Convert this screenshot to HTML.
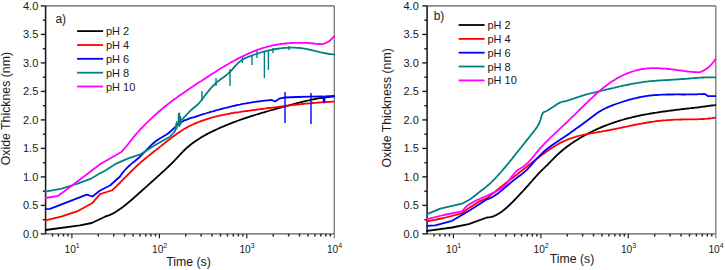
<!DOCTYPE html><html><head><meta charset="utf-8"><style>html,body{margin:0;padding:0;background:#fff;}svg{display:block;}text{font-family:"Liberation Sans",sans-serif;fill:#1a1a1a;}</style></head><body>
<svg width="725" height="270" viewBox="0 0 725 270">
<line x1="45.6" y1="5.9" x2="334.3" y2="5.9" stroke="#8a8a8a" stroke-width="1.8"/>
<line x1="334.3" y1="5.9" x2="334.3" y2="233.9" stroke="#777" stroke-width="1.3"/>
<line x1="45.6" y1="233.9" x2="334.3" y2="233.9" stroke="#8a8a8a" stroke-width="1.8"/>
<line x1="45.6" y1="5.9" x2="45.6" y2="233.9" stroke="#1e1e1e" stroke-width="1.6"/>
<line x1="40.8" y1="233.9" x2="45.6" y2="233.9" stroke="#1e1e1e" stroke-width="1.4"/>
<text x="38.3" y="237.6" font-size="11" text-anchor="end">0.0</text>
<line x1="42.8" y1="219.7" x2="45.6" y2="219.7" stroke="#1e1e1e" stroke-width="1.4"/>
<line x1="40.8" y1="205.4" x2="45.6" y2="205.4" stroke="#1e1e1e" stroke-width="1.4"/>
<text x="38.3" y="209.1" font-size="11" text-anchor="end">0.5</text>
<line x1="42.8" y1="191.2" x2="45.6" y2="191.2" stroke="#1e1e1e" stroke-width="1.4"/>
<line x1="40.8" y1="176.9" x2="45.6" y2="176.9" stroke="#1e1e1e" stroke-width="1.4"/>
<text x="38.3" y="180.6" font-size="11" text-anchor="end">1.0</text>
<line x1="42.8" y1="162.7" x2="45.6" y2="162.7" stroke="#1e1e1e" stroke-width="1.4"/>
<line x1="40.8" y1="148.4" x2="45.6" y2="148.4" stroke="#1e1e1e" stroke-width="1.4"/>
<text x="38.3" y="152.1" font-size="11" text-anchor="end">1.5</text>
<line x1="42.8" y1="134.2" x2="45.6" y2="134.2" stroke="#1e1e1e" stroke-width="1.4"/>
<line x1="40.8" y1="119.9" x2="45.6" y2="119.9" stroke="#1e1e1e" stroke-width="1.4"/>
<text x="38.3" y="123.6" font-size="11" text-anchor="end">2.0</text>
<line x1="42.8" y1="105.7" x2="45.6" y2="105.7" stroke="#1e1e1e" stroke-width="1.4"/>
<line x1="40.8" y1="91.4" x2="45.6" y2="91.4" stroke="#1e1e1e" stroke-width="1.4"/>
<text x="38.3" y="95.1" font-size="11" text-anchor="end">2.5</text>
<line x1="42.8" y1="77.2" x2="45.6" y2="77.2" stroke="#1e1e1e" stroke-width="1.4"/>
<line x1="40.8" y1="62.9" x2="45.6" y2="62.9" stroke="#1e1e1e" stroke-width="1.4"/>
<text x="38.3" y="66.6" font-size="11" text-anchor="end">3.0</text>
<line x1="42.8" y1="48.7" x2="45.6" y2="48.7" stroke="#1e1e1e" stroke-width="1.4"/>
<line x1="40.8" y1="34.4" x2="45.6" y2="34.4" stroke="#1e1e1e" stroke-width="1.4"/>
<text x="38.3" y="38.1" font-size="11" text-anchor="end">3.5</text>
<line x1="42.8" y1="20.2" x2="45.6" y2="20.2" stroke="#1e1e1e" stroke-width="1.4"/>
<line x1="40.8" y1="5.9" x2="45.6" y2="5.9" stroke="#1e1e1e" stroke-width="1.4"/>
<text x="38.3" y="9.6" font-size="11" text-anchor="end">4.0</text>
<line x1="52.5" y1="233.9" x2="52.5" y2="236.5" stroke="#1e1e1e" stroke-width="1.4"/>
<line x1="58.4" y1="233.9" x2="58.4" y2="236.5" stroke="#1e1e1e" stroke-width="1.4"/>
<line x1="63.5" y1="233.9" x2="63.5" y2="236.5" stroke="#1e1e1e" stroke-width="1.4"/>
<line x1="67.9" y1="233.9" x2="67.9" y2="236.5" stroke="#1e1e1e" stroke-width="1.4"/>
<line x1="71.9" y1="233.9" x2="71.9" y2="238.3" stroke="#1e1e1e" stroke-width="1.2"/>
<line x1="98.3" y1="233.9" x2="98.3" y2="236.5" stroke="#1e1e1e" stroke-width="1.4"/>
<line x1="113.7" y1="233.9" x2="113.7" y2="236.5" stroke="#1e1e1e" stroke-width="1.4"/>
<line x1="124.6" y1="233.9" x2="124.6" y2="236.5" stroke="#1e1e1e" stroke-width="1.4"/>
<line x1="133.1" y1="233.9" x2="133.1" y2="236.5" stroke="#1e1e1e" stroke-width="1.4"/>
<line x1="140.0" y1="233.9" x2="140.0" y2="236.5" stroke="#1e1e1e" stroke-width="1.4"/>
<line x1="145.8" y1="233.9" x2="145.8" y2="236.5" stroke="#1e1e1e" stroke-width="1.4"/>
<line x1="150.9" y1="233.9" x2="150.9" y2="236.5" stroke="#1e1e1e" stroke-width="1.4"/>
<line x1="155.4" y1="233.9" x2="155.4" y2="236.5" stroke="#1e1e1e" stroke-width="1.4"/>
<line x1="159.4" y1="233.9" x2="159.4" y2="238.3" stroke="#1e1e1e" stroke-width="1.2"/>
<line x1="185.7" y1="233.9" x2="185.7" y2="236.5" stroke="#1e1e1e" stroke-width="1.4"/>
<line x1="201.1" y1="233.9" x2="201.1" y2="236.5" stroke="#1e1e1e" stroke-width="1.4"/>
<line x1="212.0" y1="233.9" x2="212.0" y2="236.5" stroke="#1e1e1e" stroke-width="1.4"/>
<line x1="220.5" y1="233.9" x2="220.5" y2="236.5" stroke="#1e1e1e" stroke-width="1.4"/>
<line x1="227.4" y1="233.9" x2="227.4" y2="236.5" stroke="#1e1e1e" stroke-width="1.4"/>
<line x1="233.3" y1="233.9" x2="233.3" y2="236.5" stroke="#1e1e1e" stroke-width="1.4"/>
<line x1="238.4" y1="233.9" x2="238.4" y2="236.5" stroke="#1e1e1e" stroke-width="1.4"/>
<line x1="242.8" y1="233.9" x2="242.8" y2="236.5" stroke="#1e1e1e" stroke-width="1.4"/>
<line x1="246.8" y1="233.9" x2="246.8" y2="238.3" stroke="#1e1e1e" stroke-width="1.2"/>
<line x1="273.2" y1="233.9" x2="273.2" y2="236.5" stroke="#1e1e1e" stroke-width="1.4"/>
<line x1="288.6" y1="233.9" x2="288.6" y2="236.5" stroke="#1e1e1e" stroke-width="1.4"/>
<line x1="299.5" y1="233.9" x2="299.5" y2="236.5" stroke="#1e1e1e" stroke-width="1.4"/>
<line x1="308.0" y1="233.9" x2="308.0" y2="236.5" stroke="#1e1e1e" stroke-width="1.4"/>
<line x1="314.9" y1="233.9" x2="314.9" y2="236.5" stroke="#1e1e1e" stroke-width="1.4"/>
<line x1="320.8" y1="233.9" x2="320.8" y2="236.5" stroke="#1e1e1e" stroke-width="1.4"/>
<line x1="325.8" y1="233.9" x2="325.8" y2="236.5" stroke="#1e1e1e" stroke-width="1.4"/>
<line x1="330.3" y1="233.9" x2="330.3" y2="236.5" stroke="#1e1e1e" stroke-width="1.4"/>
<line x1="334.3" y1="233.9" x2="334.3" y2="238.3" stroke="#777" stroke-width="1.2"/>
<text x="72.1" y="252.8" font-size="10.2" text-anchor="middle">10<tspan font-size="7" dy="-4.6">1</tspan></text>
<text x="159.6" y="252.8" font-size="10.2" text-anchor="middle">10<tspan font-size="7" dy="-4.6">2</tspan></text>
<text x="247.0" y="252.8" font-size="10.2" text-anchor="middle">10<tspan font-size="7" dy="-4.6">3</tspan></text>
<text x="334.5" y="252.8" font-size="10.2" text-anchor="middle">10<tspan font-size="7" dy="-4.6">4</tspan></text>
<path d="M45.6,230.0 L80.0,225.3 L91.7,223.0 L105.0,216.7 L105.0,216.7 L106.5,216.2 L108.0,215.7 L109.5,215.1 L111.0,214.4 L112.5,213.7 L114.0,212.9 L115.5,212.0 L117.0,211.1 L118.5,210.1 L120.0,209.1 L121.5,208.0 L123.0,206.9 L124.5,205.7 L126.0,204.5 L127.5,203.3 L129.0,202.0 L130.5,200.8 L132.0,199.5 L133.5,198.2 L135.0,196.8 L136.5,195.5 L138.0,194.1 L139.5,192.8 L141.0,191.5 L142.5,190.1 L144.0,188.8 L145.5,187.4 L147.0,186.1 L148.5,184.7 L150.0,183.4 L151.5,182.0 L153.0,180.7 L154.5,179.3 L156.0,178.0 L157.5,176.6 L159.0,175.3 L160.5,173.9 L162.0,172.5 L163.5,171.2 L165.0,169.8 L166.5,168.4 L168.0,167.0 L169.5,165.5 L171.0,164.1 L172.5,162.6 L174.0,161.1 L175.5,159.5 L177.0,157.9 L178.5,156.3 L180.0,154.7 L181.5,153.1 L183.0,151.5 L184.5,150.0 L186.0,148.6 L187.5,147.3 L189.0,146.0 L190.5,144.8 L192.0,143.6 L193.5,142.5 L195.0,141.4 L196.5,140.4 L198.0,139.4 L199.5,138.4 L201.0,137.5 L202.5,136.6 L204.0,135.8 L205.5,134.9 L207.0,134.1 L208.5,133.3 L210.0,132.6 L211.5,131.8 L213.0,131.1 L214.5,130.4 L216.0,129.7 L217.5,129.0 L219.0,128.3 L220.5,127.6 L222.0,127.0 L223.5,126.4 L225.0,125.7 L226.5,125.1 L228.0,124.5 L229.5,123.9 L231.0,123.3 L232.5,122.7 L234.0,122.1 L235.5,121.6 L237.0,121.0 L238.5,120.5 L240.0,119.9 L241.5,119.4 L243.0,118.9 L244.5,118.4 L246.0,117.9 L247.5,117.4 L249.0,116.9 L250.5,116.4 L252.0,115.9 L253.5,115.4 L255.0,115.0 L256.5,114.5 L258.0,114.1 L259.5,113.6 L261.0,113.2 L262.5,112.7 L264.0,112.3 L265.5,111.8 L267.0,111.4 L268.5,111.0 L270.0,110.5 L271.5,110.1 L273.0,109.7 L274.5,109.3 L276.0,108.9 L277.5,108.5 L279.0,108.0 L280.5,107.6 L282.0,107.2 L283.5,106.8 L285.0,106.4 L286.5,106.0 L288.0,105.6 L289.5,105.2 L291.0,104.8 L292.5,104.4 L294.0,104.0 L295.5,103.6 L297.0,103.2 L298.5,102.8 L300.0,102.4 L301.5,102.0 L303.0,101.7 L304.5,101.3 L306.0,100.9 L307.5,100.6 L309.0,100.3 L310.5,99.9 L312.0,99.6 L313.5,99.3 L315.0,99.0 L316.5,98.7 L318.0,98.5 L319.5,98.2 L321.0,98.0 L322.5,97.7 L324.0,97.5 L325.5,97.3 L327.0,97.1 L328.5,97.0 L330.0,96.8 L331.5,96.7 L333.0,96.6 L334.0,96.5" fill="none" stroke="#000000" stroke-width="1.8" stroke-linejoin="round" stroke-linecap="round"/>
<path d="M45.6,220.3 L62.0,216.3 L78.3,210.8 L92.0,203.3 L100.0,194.2 L105.0,192.5 L111.7,190.5 L111.7,190.5 L113.2,189.2 L114.7,187.8 L116.2,186.4 L117.7,184.9 L119.2,183.5 L120.7,182.0 L122.2,180.4 L123.7,178.9 L125.2,177.4 L126.7,175.8 L128.2,174.3 L129.7,172.8 L131.2,171.3 L132.7,169.8 L134.2,168.3 L135.7,166.9 L137.2,165.5 L138.7,164.2 L140.2,162.9 L141.7,161.5 L143.2,160.3 L144.7,159.0 L146.2,157.8 L147.7,156.6 L149.2,155.4 L150.7,154.2 L152.2,153.0 L153.7,151.8 L155.2,150.6 L156.7,149.4 L158.2,148.3 L159.7,147.1 L161.2,145.9 L162.7,144.7 L164.2,143.5 L165.7,142.3 L167.2,141.1 L168.7,139.9 L170.2,138.8 L171.7,137.6 L173.2,136.5 L174.7,135.4 L176.2,134.3 L177.7,133.2 L179.2,132.2 L180.7,131.2 L182.2,130.2 L183.7,129.3 L185.2,128.4 L186.7,127.6 L188.2,126.8 L189.7,126.0 L191.2,125.2 L192.7,124.5 L194.2,123.8 L195.7,123.2 L197.2,122.6 L198.7,122.0 L200.2,121.4 L201.7,120.8 L203.2,120.3 L204.7,119.8 L206.2,119.3 L207.7,118.8 L209.2,118.4 L210.7,117.9 L212.2,117.5 L213.7,117.1 L215.2,116.7 L216.7,116.3 L218.2,116.0 L219.7,115.6 L221.2,115.3 L222.7,115.0 L224.2,114.6 L225.7,114.3 L227.2,114.1 L228.7,113.8 L230.2,113.5 L231.7,113.2 L233.2,113.0 L234.7,112.7 L236.2,112.5 L237.7,112.3 L239.2,112.1 L240.7,111.8 L242.2,111.6 L243.7,111.4 L245.2,111.2 L246.7,111.0 L248.2,110.8 L249.7,110.6 L251.2,110.4 L252.7,110.2 L254.2,110.0 L255.7,109.8 L257.2,109.6 L258.7,109.4 L260.2,109.2 L261.7,109.0 L263.2,108.8 L264.7,108.6 L266.2,108.4 L267.7,108.2 L269.2,108.0 L270.7,107.8 L272.2,107.6 L273.7,107.5 L275.2,107.3 L276.7,107.1 L278.2,106.9 L279.7,106.7 L281.2,106.5 L282.7,106.3 L284.2,106.1 L285.7,105.9 L287.2,105.7 L288.7,105.6 L290.2,105.4 L291.7,105.2 L293.2,105.0 L294.7,104.9 L296.2,104.7 L297.7,104.5 L299.2,104.4 L300.7,104.2 L302.2,104.0 L303.7,103.9 L305.2,103.7 L306.7,103.6 L308.2,103.4 L309.7,103.3 L311.2,103.2 L312.7,103.0 L314.2,102.9 L315.7,102.8 L317.2,102.6 L318.7,102.5 L320.2,102.4 L321.7,102.3 L323.2,102.2 L324.7,102.1 L326.2,102.0 L327.7,101.9 L329.2,101.8 L330.7,101.8 L332.2,101.7 L333.7,101.6 L334.0,101.6" fill="none" stroke="#ff0000" stroke-width="1.8" stroke-linejoin="round" stroke-linecap="round"/>
<path d="M45.6,209.2 L50.0,208.8 L86.7,194.7 L92.5,196.5 L100.0,190.5 L110.0,185.5 L120.0,176.5 L120.0,176.5 L121.5,174.3 L123.0,172.3 L124.5,170.5 L126.0,168.9 L127.5,167.4 L129.0,166.0 L130.5,164.6 L132.0,163.4 L133.5,162.2 L135.0,161.0 L136.5,159.7 L138.0,158.5 L139.5,157.2 L141.0,155.7 L142.5,154.2 L144.0,152.7 L145.5,151.1 L147.0,149.5 L148.5,147.9 L150.0,146.4 L151.5,144.9 L153.0,143.5 L154.5,142.2 L156.0,141.0 L157.5,139.9 L159.0,138.9 L160.5,138.0 L162.0,137.2 L163.5,136.3 L165.0,135.4 L166.5,134.4 L168.0,133.4 L169.5,132.3 L171.0,131.0 L172.5,129.6 L174.0,128.2 L175.5,126.8 L177.0,125.4 L178.5,124.1 L180.0,123.0 L181.5,122.0 L183.0,121.2 L184.5,120.4 L186.0,119.8 L187.5,119.3 L189.0,118.7 L190.5,118.2 L192.0,117.7 L193.5,117.3 L195.0,116.8 L196.5,116.3 L198.0,115.8 L199.5,115.3 L201.0,114.9 L202.5,114.4 L204.0,113.9 L205.5,113.5 L207.0,113.0 L208.5,112.6 L210.0,112.1 L211.5,111.7 L213.0,111.3 L214.5,110.8 L216.0,110.4 L217.5,110.0 L219.0,109.6 L220.5,109.2 L222.0,108.8 L223.5,108.4 L225.0,108.0 L226.5,107.6 L228.0,107.3 L229.5,106.9 L231.0,106.5 L232.5,106.2 L234.0,105.8 L235.5,105.5 L237.0,105.2 L238.5,104.9 L240.0,104.6 L241.5,104.2 L243.0,103.9 L244.5,103.7 L246.0,103.4 L247.5,103.1 L249.0,102.8 L250.5,102.6 L252.0,102.3 L253.5,102.1 L255.0,101.9 L256.5,101.7 L258.0,101.5 L259.5,101.3 L261.0,101.1 L262.5,100.9 L264.0,100.7 L265.5,100.6 L267.0,100.4 L268.5,100.3 L270.0,100.1 L271.5,100.0 L271.7,100.0 L275.0,101.5 L280.0,98.3 L285.0,97.5 L296.7,97.0 L310.0,96.7 L323.0,96.4 L324.0,102.5 L325.0,96.3 L334.0,96.0" fill="none" stroke="#0000ff" stroke-width="1.8" stroke-linejoin="round" stroke-linecap="round"/>
<line x1="285.0" y1="92.0" x2="285.0" y2="123.0" stroke="#0000ff" stroke-width="1.4"/>
<line x1="311.0" y1="93.0" x2="311.0" y2="124.0" stroke="#0000ff" stroke-width="1.4"/>
<path d="M45.6,191.7 L61.7,188.7 L78.3,183.3 L91.7,178.3 L100.0,173.3 L105.0,170.8 L116.7,163.3 L128.3,158.3 L140.4,154.4 L150.7,147.8 L160.0,142.2 L170.0,136.7 L174.0,132.5 L175.5,129.5 L176.3,123.6 L178.0,124.0 L181.3,120.2 L181.3,120.2 L182.8,118.8 L184.3,117.2 L185.8,115.6 L187.3,114.0 L188.8,112.4 L190.3,110.9 L191.8,109.5 L193.3,108.2 L194.8,107.0 L196.3,105.8 L197.8,104.5 L199.3,102.8 L200.8,101.0 L202.3,99.0 L203.8,97.0 L205.3,95.0 L206.8,93.1 L208.3,91.2 L209.8,89.4 L211.3,87.7 L212.8,86.1 L214.3,84.6 L215.8,83.2 L217.3,81.9 L218.8,80.7 L220.3,79.6 L221.8,78.5 L223.3,77.4 L224.8,76.3 L226.3,75.1 L227.8,73.9 L229.3,72.5 L230.8,71.0 L232.3,69.3 L233.8,67.6 L235.3,65.9 L236.8,64.3 L238.3,62.8 L239.8,61.6 L241.3,60.4 L242.8,59.5 L244.3,58.6 L245.8,57.9 L247.3,57.3 L248.8,56.6 L250.3,56.1 L251.8,55.5 L253.3,55.0 L254.8,54.5 L256.3,54.0 L257.8,53.5 L259.3,53.0 L260.8,52.5 L262.3,52.1 L263.8,51.7 L265.3,51.3 L266.8,50.9 L268.3,50.5 L269.8,50.2 L271.3,49.8 L272.8,49.5 L274.3,49.3 L275.8,49.0 L277.3,48.8 L278.8,48.5 L280.3,48.3 L281.8,48.2 L283.3,48.0 L284.8,47.9 L286.3,47.8 L287.8,47.7 L289.3,47.7 L290.8,47.6 L292.3,47.6 L293.8,47.7 L295.3,47.7 L296.8,47.8 L298.3,47.9 L299.8,48.0 L301.3,48.2 L302.8,48.4 L304.3,48.6 L305.8,48.9 L307.3,49.2 L308.8,49.5 L310.3,49.8 L311.8,50.1 L313.3,50.5 L314.8,50.9 L316.3,51.2 L317.8,51.6 L319.3,51.9 L320.8,52.3 L322.3,52.6 L323.8,53.0 L325.3,53.3 L326.8,53.5 L328.3,53.8 L329.8,54.0 L331.3,54.2 L332.8,54.3 L334.3,54.4 L334.4,54.4" fill="none" stroke="#008080" stroke-width="1.8" stroke-linejoin="round" stroke-linecap="round"/>
<line x1="176.9" y1="121.0" x2="176.9" y2="129.5" stroke="#008080" stroke-width="1.4"/>
<line x1="178.5" y1="113.0" x2="178.5" y2="126.0" stroke="#008080" stroke-width="1.4"/>
<line x1="179.5" y1="112.5" x2="179.5" y2="127.0" stroke="#008080" stroke-width="1.4"/>
<line x1="180.6" y1="116.0" x2="180.6" y2="125.0" stroke="#008080" stroke-width="1.4"/>
<line x1="202.0" y1="91.0" x2="202.0" y2="101.0" stroke="#008080" stroke-width="1.4"/>
<line x1="216.0" y1="78.0" x2="216.0" y2="86.0" stroke="#008080" stroke-width="1.4"/>
<line x1="230.0" y1="69.0" x2="230.0" y2="86.0" stroke="#008080" stroke-width="1.4"/>
<line x1="242.4" y1="56.0" x2="242.4" y2="63.0" stroke="#008080" stroke-width="1.4"/>
<line x1="252.0" y1="56.0" x2="252.0" y2="65.0" stroke="#008080" stroke-width="1.4"/>
<line x1="257.0" y1="50.0" x2="257.0" y2="58.0" stroke="#008080" stroke-width="1.4"/>
<line x1="264.4" y1="52.0" x2="264.4" y2="78.0" stroke="#008080" stroke-width="1.4"/>
<line x1="268.4" y1="51.0" x2="268.4" y2="70.0" stroke="#008080" stroke-width="1.4"/>
<line x1="273.0" y1="48.0" x2="273.0" y2="53.0" stroke="#008080" stroke-width="1.4"/>
<line x1="289.0" y1="46.0" x2="289.0" y2="50.0" stroke="#008080" stroke-width="1.4"/>
<path d="M45.6,198.0 L58.3,195.8 L71.7,185.8 L88.3,173.3 L96.7,166.7 L100.0,164.2 L121.7,151.7 L127.5,145.0 L127.5,145.0 L129.0,143.0 L130.5,141.0 L132.0,139.1 L133.5,137.2 L135.0,135.4 L136.5,133.7 L138.0,132.0 L139.5,130.3 L141.0,128.7 L142.5,127.1 L144.0,125.6 L145.5,124.1 L147.0,122.6 L148.5,121.1 L150.0,119.7 L151.5,118.3 L153.0,116.9 L154.5,115.5 L156.0,114.1 L157.5,112.8 L159.0,111.5 L160.5,110.2 L162.0,109.0 L163.5,107.7 L165.0,106.5 L166.5,105.3 L168.0,104.1 L169.5,103.0 L171.0,101.8 L172.5,100.7 L174.0,99.6 L175.5,98.5 L177.0,97.4 L178.5,96.3 L180.0,95.3 L181.5,94.2 L183.0,93.2 L184.5,92.2 L186.0,91.2 L187.5,90.1 L189.0,89.1 L190.5,88.1 L192.0,87.1 L193.5,86.1 L195.0,85.1 L196.5,84.1 L198.0,83.1 L199.5,82.1 L201.0,81.2 L202.5,80.2 L204.0,79.2 L205.5,78.2 L207.0,77.2 L208.5,76.2 L210.0,75.3 L211.5,74.3 L213.0,73.3 L214.5,72.4 L216.0,71.4 L217.5,70.5 L219.0,69.6 L220.5,68.6 L222.0,67.7 L223.5,66.8 L225.0,65.9 L226.5,65.0 L228.0,64.2 L229.5,63.3 L231.0,62.4 L232.5,61.6 L234.0,60.8 L235.5,59.9 L237.0,59.1 L238.5,58.4 L240.0,57.6 L241.5,56.8 L243.0,56.1 L244.5,55.4 L246.0,54.7 L247.5,54.0 L249.0,53.3 L250.5,52.7 L252.0,52.0 L253.5,51.4 L255.0,50.8 L256.5,50.2 L258.0,49.7 L259.5,49.2 L261.0,48.6 L262.5,48.2 L264.0,47.7 L265.5,47.3 L267.0,46.8 L268.5,46.4 L270.0,46.1 L271.5,45.7 L273.0,45.4 L274.5,45.1 L276.0,44.8 L277.5,44.5 L279.0,44.3 L280.5,44.0 L282.0,43.8 L283.5,43.6 L285.0,43.5 L286.5,43.3 L288.0,43.2 L289.5,43.1 L291.0,43.0 L292.5,42.9 L294.0,42.8 L295.5,42.8 L297.0,42.8 L298.5,42.8 L300.0,42.8 L301.5,42.8 L303.0,42.8 L304.5,42.9 L306.0,42.9 L307.5,43.0 L309.0,43.1 L310.5,43.2 L312.0,43.4 L313.5,43.5 L315.0,43.7 L316.5,43.8 L318.0,44.0 L319.4,44.2 L323.0,44.0 L326.5,42.8 L329.4,41.1 L332.6,38.0 L334.0,36.2" fill="none" stroke="#ff00ff" stroke-width="1.8" stroke-linejoin="round" stroke-linecap="round"/>
<line x1="77.1" y1="31.1" x2="103.1" y2="31.1" stroke="#000000" stroke-width="1.8"/>
<text x="105.9" y="35.1" font-size="11">pH 2</text>
<line x1="77.1" y1="45.0" x2="103.1" y2="45.0" stroke="#ff0000" stroke-width="1.8"/>
<text x="105.9" y="49.0" font-size="11">pH 4</text>
<line x1="77.1" y1="58.8" x2="103.1" y2="58.8" stroke="#0000ff" stroke-width="1.8"/>
<text x="105.9" y="62.8" font-size="11">pH 6</text>
<line x1="77.1" y1="72.7" x2="103.1" y2="72.7" stroke="#008080" stroke-width="1.8"/>
<text x="105.9" y="76.7" font-size="11">pH 8</text>
<line x1="77.1" y1="86.5" x2="103.1" y2="86.5" stroke="#ff00ff" stroke-width="1.8"/>
<text x="105.9" y="90.5" font-size="11">pH 10</text>
<text x="55.4" y="23.0" font-size="12">a)</text>
<text transform="translate(10.1,108.6) rotate(-90)" font-size="12.3" text-anchor="middle">Oxide Thicknes (nm)</text>
<text x="188.5" y="265.8" font-size="12.3" text-anchor="middle">Time (s)</text>
<line x1="427.1" y1="5.9" x2="715.8" y2="5.9" stroke="#8a8a8a" stroke-width="1.8"/>
<line x1="715.8" y1="5.9" x2="715.8" y2="233.9" stroke="#777" stroke-width="1.3"/>
<line x1="427.1" y1="233.9" x2="715.8" y2="233.9" stroke="#8a8a8a" stroke-width="1.8"/>
<line x1="427.1" y1="5.9" x2="427.1" y2="233.9" stroke="#1e1e1e" stroke-width="1.6"/>
<line x1="422.3" y1="233.9" x2="427.1" y2="233.9" stroke="#1e1e1e" stroke-width="1.4"/>
<text x="418.8" y="237.6" font-size="11" text-anchor="end">0.0</text>
<line x1="424.3" y1="219.7" x2="427.1" y2="219.7" stroke="#1e1e1e" stroke-width="1.4"/>
<line x1="422.3" y1="205.4" x2="427.1" y2="205.4" stroke="#1e1e1e" stroke-width="1.4"/>
<text x="418.8" y="209.1" font-size="11" text-anchor="end">0.5</text>
<line x1="424.3" y1="191.2" x2="427.1" y2="191.2" stroke="#1e1e1e" stroke-width="1.4"/>
<line x1="422.3" y1="176.9" x2="427.1" y2="176.9" stroke="#1e1e1e" stroke-width="1.4"/>
<text x="418.8" y="180.6" font-size="11" text-anchor="end">1.0</text>
<line x1="424.3" y1="162.7" x2="427.1" y2="162.7" stroke="#1e1e1e" stroke-width="1.4"/>
<line x1="422.3" y1="148.4" x2="427.1" y2="148.4" stroke="#1e1e1e" stroke-width="1.4"/>
<text x="418.8" y="152.1" font-size="11" text-anchor="end">1.5</text>
<line x1="424.3" y1="134.2" x2="427.1" y2="134.2" stroke="#1e1e1e" stroke-width="1.4"/>
<line x1="422.3" y1="119.9" x2="427.1" y2="119.9" stroke="#1e1e1e" stroke-width="1.4"/>
<text x="418.8" y="123.6" font-size="11" text-anchor="end">2.0</text>
<line x1="424.3" y1="105.7" x2="427.1" y2="105.7" stroke="#1e1e1e" stroke-width="1.4"/>
<line x1="422.3" y1="91.4" x2="427.1" y2="91.4" stroke="#1e1e1e" stroke-width="1.4"/>
<text x="418.8" y="95.1" font-size="11" text-anchor="end">2.5</text>
<line x1="424.3" y1="77.2" x2="427.1" y2="77.2" stroke="#1e1e1e" stroke-width="1.4"/>
<line x1="422.3" y1="62.9" x2="427.1" y2="62.9" stroke="#1e1e1e" stroke-width="1.4"/>
<text x="418.8" y="66.6" font-size="11" text-anchor="end">3.0</text>
<line x1="424.3" y1="48.7" x2="427.1" y2="48.7" stroke="#1e1e1e" stroke-width="1.4"/>
<line x1="422.3" y1="34.4" x2="427.1" y2="34.4" stroke="#1e1e1e" stroke-width="1.4"/>
<text x="418.8" y="38.1" font-size="11" text-anchor="end">3.5</text>
<line x1="424.3" y1="20.2" x2="427.1" y2="20.2" stroke="#1e1e1e" stroke-width="1.4"/>
<line x1="422.3" y1="5.9" x2="427.1" y2="5.9" stroke="#1e1e1e" stroke-width="1.4"/>
<text x="418.8" y="9.6" font-size="11" text-anchor="end">4.0</text>
<line x1="434.0" y1="233.9" x2="434.0" y2="236.5" stroke="#1e1e1e" stroke-width="1.4"/>
<line x1="439.9" y1="233.9" x2="439.9" y2="236.5" stroke="#1e1e1e" stroke-width="1.4"/>
<line x1="445.0" y1="233.9" x2="445.0" y2="236.5" stroke="#1e1e1e" stroke-width="1.4"/>
<line x1="449.4" y1="233.9" x2="449.4" y2="236.5" stroke="#1e1e1e" stroke-width="1.4"/>
<line x1="453.4" y1="233.9" x2="453.4" y2="238.3" stroke="#1e1e1e" stroke-width="1.2"/>
<line x1="479.8" y1="233.9" x2="479.8" y2="236.5" stroke="#1e1e1e" stroke-width="1.4"/>
<line x1="495.2" y1="233.9" x2="495.2" y2="236.5" stroke="#1e1e1e" stroke-width="1.4"/>
<line x1="506.1" y1="233.9" x2="506.1" y2="236.5" stroke="#1e1e1e" stroke-width="1.4"/>
<line x1="514.6" y1="233.9" x2="514.6" y2="236.5" stroke="#1e1e1e" stroke-width="1.4"/>
<line x1="521.5" y1="233.9" x2="521.5" y2="236.5" stroke="#1e1e1e" stroke-width="1.4"/>
<line x1="527.3" y1="233.9" x2="527.3" y2="236.5" stroke="#1e1e1e" stroke-width="1.4"/>
<line x1="532.4" y1="233.9" x2="532.4" y2="236.5" stroke="#1e1e1e" stroke-width="1.4"/>
<line x1="536.9" y1="233.9" x2="536.9" y2="236.5" stroke="#1e1e1e" stroke-width="1.4"/>
<line x1="540.9" y1="233.9" x2="540.9" y2="238.3" stroke="#1e1e1e" stroke-width="1.2"/>
<line x1="567.2" y1="233.9" x2="567.2" y2="236.5" stroke="#1e1e1e" stroke-width="1.4"/>
<line x1="582.6" y1="233.9" x2="582.6" y2="236.5" stroke="#1e1e1e" stroke-width="1.4"/>
<line x1="593.5" y1="233.9" x2="593.5" y2="236.5" stroke="#1e1e1e" stroke-width="1.4"/>
<line x1="602.0" y1="233.9" x2="602.0" y2="236.5" stroke="#1e1e1e" stroke-width="1.4"/>
<line x1="608.9" y1="233.9" x2="608.9" y2="236.5" stroke="#1e1e1e" stroke-width="1.4"/>
<line x1="614.8" y1="233.9" x2="614.8" y2="236.5" stroke="#1e1e1e" stroke-width="1.4"/>
<line x1="619.9" y1="233.9" x2="619.9" y2="236.5" stroke="#1e1e1e" stroke-width="1.4"/>
<line x1="624.3" y1="233.9" x2="624.3" y2="236.5" stroke="#1e1e1e" stroke-width="1.4"/>
<line x1="628.3" y1="233.9" x2="628.3" y2="238.3" stroke="#1e1e1e" stroke-width="1.2"/>
<line x1="654.7" y1="233.9" x2="654.7" y2="236.5" stroke="#1e1e1e" stroke-width="1.4"/>
<line x1="670.1" y1="233.9" x2="670.1" y2="236.5" stroke="#1e1e1e" stroke-width="1.4"/>
<line x1="681.0" y1="233.9" x2="681.0" y2="236.5" stroke="#1e1e1e" stroke-width="1.4"/>
<line x1="689.5" y1="233.9" x2="689.5" y2="236.5" stroke="#1e1e1e" stroke-width="1.4"/>
<line x1="696.4" y1="233.9" x2="696.4" y2="236.5" stroke="#1e1e1e" stroke-width="1.4"/>
<line x1="702.3" y1="233.9" x2="702.3" y2="236.5" stroke="#1e1e1e" stroke-width="1.4"/>
<line x1="707.3" y1="233.9" x2="707.3" y2="236.5" stroke="#1e1e1e" stroke-width="1.4"/>
<line x1="711.8" y1="233.9" x2="711.8" y2="236.5" stroke="#1e1e1e" stroke-width="1.4"/>
<line x1="715.8" y1="233.9" x2="715.8" y2="238.3" stroke="#777" stroke-width="1.2"/>
<text x="453.6" y="252.8" font-size="10.2" text-anchor="middle">10<tspan font-size="7" dy="-4.6">1</tspan></text>
<text x="541.1" y="252.8" font-size="10.2" text-anchor="middle">10<tspan font-size="7" dy="-4.6">2</tspan></text>
<text x="628.5" y="252.8" font-size="10.2" text-anchor="middle">10<tspan font-size="7" dy="-4.6">3</tspan></text>
<text x="716.0" y="252.8" font-size="10.2" text-anchor="middle">10<tspan font-size="7" dy="-4.6">4</tspan></text>
<path d="M427.1,230.8 L452.0,227.5 L468.7,224.2 L487.0,217.5 L487.0,217.5 L488.5,217.4 L490.0,217.2 L491.5,216.9 L493.0,216.4 L494.5,215.8 L496.0,215.1 L497.5,214.3 L499.0,213.4 L500.5,212.4 L502.0,211.4 L503.5,210.2 L505.0,209.0 L506.5,207.7 L508.0,206.4 L509.5,205.0 L511.0,203.5 L512.5,202.1 L514.0,200.5 L515.5,199.0 L517.0,197.4 L518.5,195.8 L520.0,194.2 L521.5,192.6 L523.0,191.0 L524.5,189.4 L526.0,187.7 L527.5,186.1 L529.0,184.4 L530.5,182.7 L532.0,181.0 L533.5,179.2 L535.0,177.5 L536.5,175.8 L538.0,174.2 L539.5,172.6 L541.0,171.1 L542.5,169.6 L544.0,168.2 L545.5,166.7 L547.0,165.3 L548.5,163.7 L550.0,162.2 L551.5,160.6 L553.0,159.1 L554.5,157.6 L556.0,156.1 L557.5,154.7 L559.0,153.3 L560.5,152.0 L562.0,150.7 L563.5,149.4 L565.0,148.2 L566.5,147.1 L568.0,146.0 L569.5,144.9 L571.0,143.8 L572.5,142.8 L574.0,141.8 L575.5,140.8 L577.0,139.9 L578.5,139.0 L580.0,138.1 L581.5,137.2 L583.0,136.3 L584.5,135.5 L586.0,134.7 L587.5,133.9 L589.0,133.1 L590.5,132.3 L592.0,131.6 L593.5,130.8 L595.0,130.1 L596.5,129.4 L598.0,128.7 L599.5,128.1 L601.0,127.4 L602.5,126.8 L604.0,126.2 L605.5,125.6 L607.0,125.0 L608.5,124.5 L610.0,123.9 L611.5,123.4 L613.0,122.8 L614.5,122.3 L616.0,121.8 L617.5,121.4 L619.0,120.9 L620.5,120.4 L622.0,120.0 L623.5,119.5 L625.0,119.1 L626.5,118.7 L628.0,118.3 L629.5,117.9 L631.0,117.6 L632.5,117.2 L634.0,116.8 L635.5,116.5 L637.0,116.2 L638.5,115.8 L640.0,115.5 L641.5,115.2 L643.0,114.9 L644.5,114.6 L646.0,114.3 L647.5,114.1 L649.0,113.8 L650.5,113.5 L652.0,113.3 L653.5,113.0 L655.0,112.8 L656.5,112.6 L658.0,112.3 L659.5,112.1 L661.0,111.9 L662.5,111.7 L664.0,111.5 L665.5,111.3 L667.0,111.1 L668.5,110.9 L670.0,110.7 L671.5,110.5 L673.0,110.3 L674.5,110.1 L676.0,109.9 L677.5,109.7 L679.0,109.6 L680.5,109.4 L682.0,109.2 L683.5,109.0 L685.0,108.9 L686.5,108.7 L688.0,108.5 L689.5,108.3 L691.0,108.2 L692.5,108.0 L694.0,107.8 L695.5,107.6 L697.0,107.5 L698.5,107.3 L700.0,107.1 L701.5,106.9 L703.0,106.7 L704.5,106.5 L706.0,106.3 L707.5,106.1 L709.0,105.9 L710.5,105.7 L712.0,105.5 L713.5,105.3 L715.0,105.1 L715.4,105.0" fill="none" stroke="#000000" stroke-width="1.8" stroke-linejoin="round" stroke-linecap="round"/>
<path d="M427.1,221.3 L443.7,218.0 L462.0,213.3 L468.7,208.3 L478.7,201.7 L487.0,198.3 L487.0,198.3 L488.5,197.0 L490.0,195.8 L491.5,194.5 L493.0,193.3 L494.5,192.1 L496.0,190.9 L497.5,189.7 L499.0,188.5 L500.5,187.3 L502.0,186.1 L503.5,184.9 L505.0,183.7 L506.5,182.5 L508.0,181.4 L509.5,180.2 L511.0,179.0 L512.5,177.9 L514.0,176.7 L515.5,175.5 L517.0,174.4 L518.5,173.2 L520.0,172.0 L521.5,170.9 L523.0,169.7 L524.5,168.5 L526.0,167.4 L527.5,166.2 L529.0,165.0 L530.5,163.8 L532.0,162.6 L533.5,161.4 L535.0,160.3 L536.5,159.1 L538.0,157.9 L539.5,156.8 L541.0,155.6 L542.5,154.5 L544.0,153.4 L545.5,152.3 L547.0,151.2 L548.5,150.2 L550.0,149.1 L551.5,148.1 L553.0,147.2 L554.5,146.2 L556.0,145.3 L557.5,144.5 L559.0,143.6 L560.5,142.8 L562.0,142.1 L563.5,141.4 L565.0,140.7 L566.5,140.0 L568.0,139.4 L569.5,138.9 L571.0,138.3 L572.5,137.8 L574.0,137.3 L575.5,136.9 L577.0,136.4 L578.5,136.0 L580.0,135.6 L581.5,135.3 L583.0,134.9 L584.5,134.6 L586.0,134.3 L587.5,134.0 L589.0,133.7 L590.5,133.4 L592.0,133.1 L593.5,132.9 L595.0,132.6 L596.5,132.4 L598.0,132.1 L599.5,131.8 L601.0,131.6 L602.5,131.3 L604.0,131.1 L605.5,130.8 L607.0,130.5 L608.5,130.3 L610.0,130.0 L611.5,129.7 L613.0,129.4 L614.5,129.1 L616.0,128.8 L617.5,128.5 L619.0,128.1 L620.5,127.8 L622.0,127.5 L623.5,127.2 L625.0,126.9 L626.5,126.6 L628.0,126.3 L629.5,125.9 L631.0,125.6 L632.5,125.3 L634.0,125.0 L635.5,124.7 L637.0,124.4 L638.5,124.1 L640.0,123.8 L641.5,123.6 L643.0,123.3 L644.5,123.0 L646.0,122.8 L647.5,122.5 L649.0,122.3 L650.5,122.0 L652.0,121.8 L653.5,121.6 L655.0,121.4 L656.5,121.2 L658.0,121.0 L659.5,120.9 L661.0,120.7 L662.5,120.5 L664.0,120.4 L665.5,120.3 L667.0,120.2 L668.5,120.1 L670.0,120.0 L671.5,119.9 L673.0,119.8 L674.5,119.7 L676.0,119.7 L677.5,119.6 L679.0,119.6 L680.5,119.5 L682.0,119.5 L683.5,119.4 L685.0,119.4 L686.5,119.4 L688.0,119.4 L689.5,119.4 L691.0,119.4 L692.5,119.3 L694.0,119.3 L695.5,119.3 L697.0,119.3 L698.5,119.2 L700.0,119.2 L701.5,119.1 L703.0,119.0 L704.5,118.9 L706.0,118.8 L707.5,118.7 L709.0,118.5 L710.5,118.4 L712.0,118.2 L713.5,117.9 L715.0,117.7 L715.4,117.6" fill="none" stroke="#ff0000" stroke-width="1.8" stroke-linejoin="round" stroke-linecap="round"/>
<path d="M427.1,225.8 L435.3,225.3 L452.0,220.8 L462.0,215.0 L470.3,210.0 L487.0,199.2 L487.0,199.2 L488.5,198.8 L490.0,198.2 L491.5,197.5 L493.0,196.7 L494.5,195.8 L496.0,194.8 L497.5,193.8 L499.0,192.6 L500.5,191.4 L502.0,190.2 L503.5,188.9 L505.0,187.6 L506.5,186.3 L508.0,185.0 L509.5,183.7 L511.0,182.4 L512.5,181.2 L514.0,180.0 L515.5,178.8 L517.0,177.7 L518.5,176.6 L520.0,175.5 L521.5,174.4 L523.0,173.2 L524.5,171.9 L526.0,170.6 L527.5,169.1 L529.0,167.5 L530.5,165.8 L532.0,164.1 L533.5,162.3 L535.0,160.6 L536.5,158.9 L538.0,157.3 L539.5,155.8 L541.0,154.3 L542.5,152.9 L544.0,151.5 L545.5,150.2 L547.0,149.0 L548.5,147.8 L550.0,146.7 L551.5,145.6 L553.0,144.5 L554.5,143.5 L556.0,142.5 L557.5,141.5 L559.0,140.5 L560.5,139.5 L562.0,138.5 L563.5,137.5 L565.0,136.5 L566.5,135.5 L568.0,134.4 L569.5,133.4 L571.0,132.3 L572.5,131.3 L574.0,130.2 L575.5,129.1 L577.0,128.1 L578.5,127.0 L580.0,125.9 L581.5,124.8 L583.0,123.7 L584.5,122.5 L586.0,121.4 L587.5,120.3 L589.0,119.2 L590.5,118.0 L592.0,116.9 L593.5,115.8 L595.0,114.7 L596.5,113.6 L598.0,112.6 L599.5,111.6 L601.0,110.7 L602.5,109.8 L604.0,109.0 L605.5,108.3 L607.0,107.6 L608.5,106.9 L610.0,106.3 L611.5,105.7 L613.0,105.1 L614.5,104.5 L616.0,104.0 L617.5,103.5 L619.0,103.0 L620.5,102.5 L622.0,102.0 L623.5,101.5 L625.0,101.0 L626.5,100.6 L628.0,100.1 L629.5,99.7 L631.0,99.3 L632.5,98.9 L634.0,98.5 L635.5,98.2 L637.0,97.8 L638.5,97.5 L640.0,97.2 L641.5,96.9 L643.0,96.6 L644.5,96.3 L646.0,96.1 L647.5,95.9 L649.0,95.7 L650.5,95.5 L652.0,95.4 L653.5,95.2 L655.0,95.1 L656.5,95.0 L658.0,94.9 L659.5,94.8 L661.0,94.7 L662.5,94.7 L664.0,94.6 L665.5,94.6 L667.0,94.5 L668.5,94.5 L670.0,94.5 L671.5,94.5 L673.0,94.5 L674.5,94.4 L676.0,94.4 L677.5,94.4 L679.0,94.4 L680.5,94.4 L682.0,94.5 L683.5,94.5 L685.0,94.5 L686.5,94.4 L688.0,94.4 L689.5,94.4 L691.0,94.4 L692.5,94.4 L694.0,94.4 L695.5,94.3 L697.0,94.3 L698.5,94.2 L700.0,94.1 L701.5,94.1 L703.0,94.0 L704.0,93.9 L706.0,94.6 L707.8,96.1 L715.4,96.1" fill="none" stroke="#0000ff" stroke-width="1.8" stroke-linejoin="round" stroke-linecap="round"/>
<path d="M427.1,214.2 L440.3,208.7 L462.0,203.7 L470.3,199.2 L482.0,190.0 L482.0,190.0 L483.5,188.9 L485.0,187.8 L486.5,186.6 L488.0,185.3 L489.5,184.0 L491.0,182.6 L492.5,181.1 L494.0,179.6 L495.5,178.1 L497.0,176.5 L498.5,174.8 L500.0,173.2 L501.5,171.5 L503.0,169.7 L504.5,167.9 L506.0,166.1 L507.5,164.3 L509.0,162.5 L510.5,160.6 L512.0,158.8 L513.5,156.9 L515.0,155.0 L516.5,153.1 L518.0,151.2 L519.5,149.3 L521.0,147.5 L522.5,145.6 L524.0,143.7 L525.5,141.8 L527.0,139.9 L528.5,138.1 L530.0,136.2 L531.5,134.3 L533.0,132.4 L534.5,130.5 L536.0,128.4 L537.5,126.3 L539.0,123.8 L540.5,119.7 L542.0,114.6 L543.5,112.3 L545.0,111.6 L546.5,111.0 L548.0,110.2 L549.5,109.3 L551.0,108.3 L552.5,107.3 L554.0,106.2 L555.5,105.2 L557.0,104.2 L558.5,103.4 L560.0,102.6 L561.5,102.0 L563.0,101.6 L564.5,101.3 L566.0,101.0 L567.5,100.6 L569.0,100.2 L570.5,99.7 L572.0,99.2 L573.5,98.7 L575.0,98.2 L576.5,97.6 L578.0,97.1 L579.5,96.6 L581.0,96.1 L582.5,95.6 L584.0,95.2 L585.5,94.7 L587.0,94.3 L588.5,93.9 L590.0,93.5 L591.5,93.1 L593.0,92.8 L594.5,92.4 L596.0,92.1 L597.5,91.7 L599.0,91.3 L600.5,91.0 L602.0,90.6 L603.5,90.3 L605.0,89.9 L606.5,89.5 L608.0,89.2 L609.5,88.8 L611.0,88.5 L612.5,88.1 L614.0,87.8 L615.5,87.4 L617.0,87.1 L618.5,86.7 L620.0,86.4 L621.5,86.0 L623.0,85.7 L624.5,85.4 L626.0,85.1 L627.5,84.8 L629.0,84.5 L630.5,84.2 L632.0,83.9 L633.5,83.6 L635.0,83.3 L636.5,83.1 L638.0,82.8 L639.5,82.6 L641.0,82.4 L642.5,82.1 L644.0,81.9 L645.5,81.7 L647.0,81.6 L648.5,81.4 L650.0,81.2 L651.5,81.1 L653.0,81.0 L654.5,80.8 L656.0,80.7 L657.5,80.6 L659.0,80.5 L660.5,80.4 L662.0,80.3 L663.5,80.2 L665.0,80.1 L666.5,80.1 L668.0,80.0 L669.5,79.9 L671.0,79.8 L672.5,79.7 L674.0,79.6 L675.5,79.5 L677.0,79.4 L678.5,79.3 L680.0,79.2 L681.5,79.1 L683.0,79.0 L684.5,78.9 L686.0,78.8 L687.5,78.6 L689.0,78.5 L690.5,78.4 L692.0,78.3 L693.5,78.1 L695.0,78.0 L696.5,77.9 L698.0,77.8 L699.5,77.7 L701.0,77.6 L702.5,77.5 L704.0,77.5 L705.5,77.4 L707.0,77.3 L708.5,77.3 L710.0,77.3 L711.5,77.3 L713.0,77.3 L714.5,77.3 L715.4,77.3" fill="none" stroke="#008080" stroke-width="1.8" stroke-linejoin="round" stroke-linecap="round"/>
<path d="M427.1,219.2 L443.7,215.0 L462.0,211.3 L467.0,205.8 L477.0,200.0 L487.0,195.8 L487.0,195.8 L488.5,195.0 L490.0,194.3 L491.5,193.6 L493.0,192.9 L494.5,192.2 L496.0,191.5 L497.5,190.7 L499.0,189.8 L500.5,188.9 L502.0,187.8 L503.5,186.5 L505.0,185.1 L506.5,183.5 L508.0,181.6 L509.5,179.6 L511.0,177.6 L512.5,175.6 L514.0,173.7 L515.5,172.1 L517.0,170.7 L518.5,169.6 L520.0,168.7 L521.5,167.8 L523.0,166.8 L524.5,165.7 L526.0,164.5 L527.5,163.1 L529.0,161.5 L530.5,159.9 L532.0,158.1 L533.5,156.3 L535.0,154.5 L536.5,152.6 L538.0,150.8 L539.5,149.1 L541.0,147.4 L542.5,145.8 L544.0,144.2 L545.5,142.6 L547.0,141.1 L548.5,139.6 L550.0,138.2 L551.5,136.7 L553.0,135.3 L554.5,133.9 L556.0,132.5 L557.5,131.1 L559.0,129.7 L560.5,128.2 L562.0,126.8 L563.5,125.4 L565.0,124.0 L566.5,122.5 L568.0,121.1 L569.5,119.6 L571.0,118.2 L572.5,116.7 L574.0,115.3 L575.5,113.8 L577.0,112.3 L578.5,110.9 L580.0,109.4 L581.5,107.9 L583.0,106.4 L584.5,105.0 L586.0,103.5 L587.5,102.1 L589.0,100.6 L590.5,99.2 L592.0,97.8 L593.5,96.4 L595.0,95.0 L596.5,93.6 L598.0,92.3 L599.5,91.0 L601.0,89.7 L602.5,88.5 L604.0,87.3 L605.5,86.1 L607.0,85.0 L608.5,83.9 L610.0,82.8 L611.5,81.8 L613.0,80.8 L614.5,79.9 L616.0,79.0 L617.5,78.1 L619.0,77.3 L620.5,76.5 L622.0,75.7 L623.5,75.0 L625.0,74.3 L626.5,73.7 L628.0,73.1 L629.5,72.5 L631.0,72.0 L632.5,71.5 L634.0,71.0 L635.5,70.6 L637.0,70.2 L638.5,69.8 L640.0,69.5 L641.5,69.2 L643.0,69.0 L644.5,68.8 L646.0,68.6 L647.5,68.4 L649.0,68.3 L650.5,68.2 L652.0,68.2 L653.5,68.2 L655.0,68.2 L656.5,68.2 L658.0,68.2 L659.5,68.3 L661.0,68.4 L662.5,68.5 L664.0,68.6 L665.5,68.7 L667.0,68.9 L668.5,69.0 L670.0,69.2 L671.5,69.4 L673.0,69.5 L674.5,69.7 L676.0,69.9 L677.5,70.1 L679.0,70.3 L680.5,70.5 L682.0,70.7 L683.5,70.9 L685.0,71.1 L686.5,71.3 L688.0,71.5 L689.5,71.6 L691.0,71.8 L692.5,71.9 L694.0,72.0 L695.5,72.2 L697.0,72.2 L698.0,72.3 L701.0,71.8 L704.5,70.1 L708.0,67.8 L711.0,64.9 L713.5,62.0 L715.5,59.1" fill="none" stroke="#ff00ff" stroke-width="1.8" stroke-linejoin="round" stroke-linecap="round"/>
<line x1="458.6" y1="25.0" x2="484.6" y2="25.0" stroke="#000000" stroke-width="1.8"/>
<text x="487.4" y="29.0" font-size="11">pH 2</text>
<line x1="458.6" y1="38.9" x2="484.6" y2="38.9" stroke="#ff0000" stroke-width="1.8"/>
<text x="487.4" y="42.9" font-size="11">pH 4</text>
<line x1="458.6" y1="52.7" x2="484.6" y2="52.7" stroke="#0000ff" stroke-width="1.8"/>
<text x="487.4" y="56.7" font-size="11">pH 6</text>
<line x1="458.6" y1="66.5" x2="484.6" y2="66.5" stroke="#008080" stroke-width="1.8"/>
<text x="487.4" y="70.5" font-size="11">pH 8</text>
<line x1="458.6" y1="80.4" x2="484.6" y2="80.4" stroke="#ff00ff" stroke-width="1.8"/>
<text x="487.4" y="84.4" font-size="11">pH 10</text>
<text x="433.7" y="19.6" font-size="12">b)</text>
<text transform="translate(390.6,107.9) rotate(-90)" font-size="12.3" text-anchor="middle">Oxide Thickness (nm)</text>
<text x="572.0" y="263.4" font-size="12.3" text-anchor="middle">Time (s)</text>
</svg></body></html>
